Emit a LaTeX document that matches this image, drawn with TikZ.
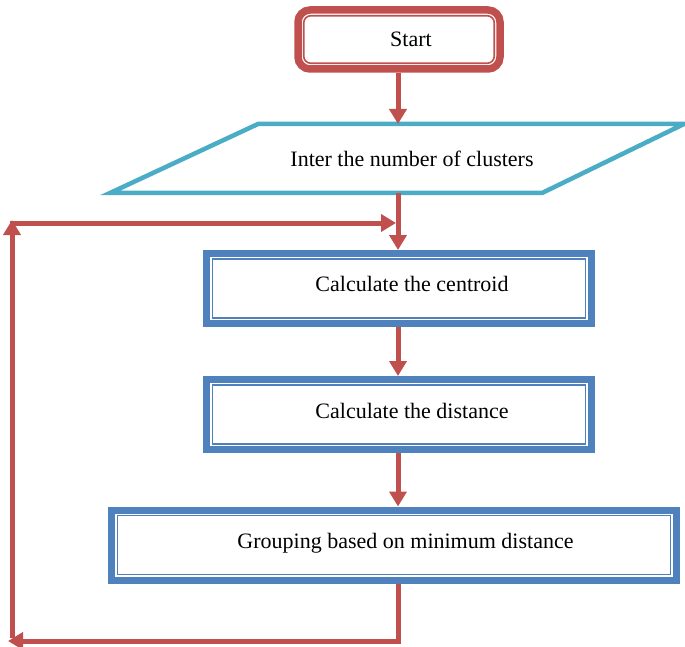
\documentclass[tikz,border=0pt]{standalone}
\usepackage{fontspec}
\setmainfont{Liberation Serif}
\usetikzlibrary{arrows.meta,calc}
\definecolor{flowred}{HTML}{C0504D}
\definecolor{flowblue}{HTML}{4F81BD}
\definecolor{flowcyan}{HTML}{4BACC6}
\tikzset{
  label text/.style={font=\fontsize{22}{26}\selectfont, inner sep=0pt, anchor=base},
  startbox/.style={draw=flowred, line width=7.5pt, rounded corners=12pt,
    minimum width=202pt, minimum height=59pt, inner sep=0pt},
  procbox/.style={draw=flowblue, line width=7pt,
    minimum width=#1, minimum height=70pt, inner sep=0pt},
  inner frame/.style={line width=1.6pt},
  flow/.style={draw=flowred, line width=5pt, line join=miter,
    -{Triangle[width=17pt,length=15pt]}},
}
\begin{document}
\begin{tikzpicture}[x=1pt,y=-1pt]
  \useasboundingbox (0,0) rectangle (685,647);

  % vertical spine of the flow
  \coordinate (spine) at (398,0);

  % start terminal
  \node[startbox] (start) at (399,39.5) {};
  \draw[flowred, inner frame, rounded corners=7pt]
    ($(start.north west)+(9.5pt,-9.5pt)$) rectangle ($(start.south east)+(-9.5pt,9.5pt)$);
  \node[label text] (starttxt) at (411,47) {Start};

  % input parallelogram
  \coordinate (pTL) at (258,124);
  \coordinate (pTR) at (684,124);
  \coordinate (pBR) at (542,193);
  \coordinate (pBL) at (110,193);
  \draw[flowcyan, line width=4.5pt, line join=miter] (pTL) -- (pTR) -- (pBR) -- (pBL) -- cycle;
  \node[label text] (input) at (412,167) {Inter the number of clusters};

  % process boxes
  \node[procbox=385pt] (centroid) at (399,288.5) {};
  \node[procbox=385pt] (distance) at (399,414.5) {};
  \node[procbox=565pt] (grouping) at (394,545) {};
  \foreach \b in {centroid,distance,grouping}{
    \draw[flowblue, inner frame]
      ($(\b.north west)+(9.5pt,-9pt)$) rectangle ($(\b.south east)+(-9.5pt,9pt)$);
  }
  \node[label text] (centroidtxt) at (412,291) {Calculate the centroid};
  \node[label text] (distancetxt) at (412,418) {Calculate the distance};
  \node[label text] (groupingtxt) at (405.5,548) {Grouping based on minimum distance};

  % main connectors
  \draw[flow] (start.south -| spine) -- (spine |- pTL);
  \draw[flow] (spine |- pBL) -- (spine |- centroid.north);
  \draw[flow] (spine |- centroid.south) -- (spine |- distance.north);
  \draw[flow] (spine |- distance.south) -- (spine |- grouping.north);

  % feedback loop
  \coordinate (retBL) at (8,641);
  \coordinate (retB) at (12,638);
  \coordinate (retT) at (12,220);
  \coordinate (retL) at (9.5,223);
  \coordinate (join) at (396,223);
  \draw[flow] (spine |- grouping.south) |- (retBL);
  \draw[flow] (retB) -- (retT);
  \draw[flow] (retL) -- (join);
\end{tikzpicture}
\end{document}
